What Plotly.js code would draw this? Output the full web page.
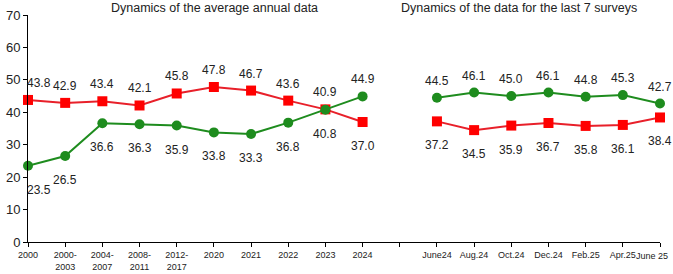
<!DOCTYPE html>
<html>
<head>
<meta charset="utf-8">
<script src="https://cdn.plot.ly/plotly-3.0.1.min.js"></script>
<style>html,body{margin:0;padding:0;background:#fff;}#chart{width:673px;height:274px;}</style>
</head>
<body>
<div id="chart"></div>
<script>
// Categories
const annualCats = ["2000", "2000-<br>2003", "2004-<br>2007", "2008-<br>2011", "2012-<br>2017", "2020", "2021", "2022", "2023", "2024"];
const gapCats = [" "];
const surveyCats = ["June24", "Aug.24", "Oct.24", "Dec.24", "Feb.25", "Apr.25", "June 25"];

// Series values
const annualRed = [43.8, 42.9, 43.4, 42.1, 45.8, 47.8, 46.7, 43.6, 40.9, 37.0];
const annualGreen = [23.5, 26.5, 36.6, 36.3, 35.9, 33.8, 33.3, 36.8, 40.8, 44.9];
const surveyRed = [37.2, 34.5, 35.9, 36.7, 35.8, 36.1, 38.4];
const surveyGreen = [44.5, 46.1, 45.0, 46.1, 44.8, 45.3, 42.7];

// Titles
const titleLeft = "Dynamics of the average annual data";
const titleRight = "Dynamics of the data for the last 7 surveys";

const allCats = annualCats.concat(gapCats, surveyCats);
const lastIdx = allCats.length - 1;
const RED = "#FF0000", REDLINE = "#E8202A", GREEN = "#1E8C1E";
const FONT = "Liberation Sans, Arial, sans-serif";

function trace(x, y, color, lineColor, symbol) {
  return {
    x: x, y: y, type: "scatter", mode: "lines+markers",
    line: {color: lineColor, width: 2},
    marker: {color: color, size: 10, symbol: symbol},
    cliponaxis: false, hoverinfo: "skip", showlegend: false
  };
}

const data = [
  trace(annualCats, annualRed, RED, REDLINE, "square"),
  trace(annualCats, annualGreen, GREEN, GREEN, "circle"),
  trace(surveyCats, surveyRed, RED, REDLINE, "square"),
  trace(surveyCats, surveyGreen, GREEN, GREEN, "circle")
];

const annotations = [];
function addLabels(cats, vals, otherVals) {
  cats.forEach((c, i) => {
    const idx = allCats.indexOf(c);
    const above = vals[i] >= otherVals[i];
    annotations.push({
      x: idx, y: vals[i], xref: "x", yref: "y",
      text: vals[i].toFixed(1), showarrow: false,
      yshift: above ? 17 : -24,
      xshift: idx === 0 ? 11 : 0,
      font: {family: FONT, size: 12, color: "#222"}
    });
  });
}
addLabels(annualCats, annualRed, annualGreen);
addLabels(annualCats, annualGreen, annualRed);
addLabels(surveyCats, surveyRed, surveyGreen);
addLabels(surveyCats, surveyGreen, surveyRed);

annotations.push({
  text: titleLeft, xref: "paper", yref: "paper", x: (214 - 28) / 632, y: 1 + 7.5 / 227,
  xanchor: "center", yanchor: "middle", showarrow: false,
  font: {family: FONT, size: 12.5, color: "#222"}
});
annotations.push({
  text: titleRight, xref: "paper", yref: "paper", x: (519 - 28) / 632, y: 1 + 7.5 / 227,
  xanchor: "center", yanchor: "middle", showarrow: false,
  font: {family: FONT, size: 12.5, color: "#222"}
});
// last tick label, nudged left so it stays inside the picture
annotations.push({
  text: allCats[lastIdx], x: lastIdx, xref: "x", y: 0, yref: "y",
  xanchor: "right", yanchor: "middle", xshift: 10, yshift: -14, showarrow: false,
  font: {family: FONT, size: 9, color: "#222"}
});

const tickText = allCats.map((c, i) => i === lastIdx ? "" : c);

const layout = {
  width: 673, height: 274,
  margin: {l: 28, r: 13, t: 15, b: 32, pad: 0},
  paper_bgcolor: "#fff", plot_bgcolor: "#fff",
  showlegend: false,
  xaxis: {
    type: "category", categoryorder: "array", categoryarray: allCats,
    tickmode: "array", tickvals: allCats, ticktext: tickText,
    range: [0, lastIdx],
    showgrid: false, zeroline: false,
    showline: true, linecolor: "#000", linewidth: 1,
    ticks: "outside", ticklen: 4, tickcolor: "#000",
    tickfont: {family: FONT, size: 9, color: "#222"}
  },
  yaxis: {
    range: [0, 70], dtick: 10, tick0: 0,
    showgrid: false, zeroline: false,
    showline: true, linecolor: "#000", linewidth: 1,
    ticks: "outside", ticklen: 4, tickcolor: "#000",
    tickfont: {family: FONT, size: 13, color: "#222"}
  },
  annotations: annotations
};

Plotly.newPlot("chart", data, layout, {displayModeBar: false, staticPlot: true});
</script>
</body>
</html>
